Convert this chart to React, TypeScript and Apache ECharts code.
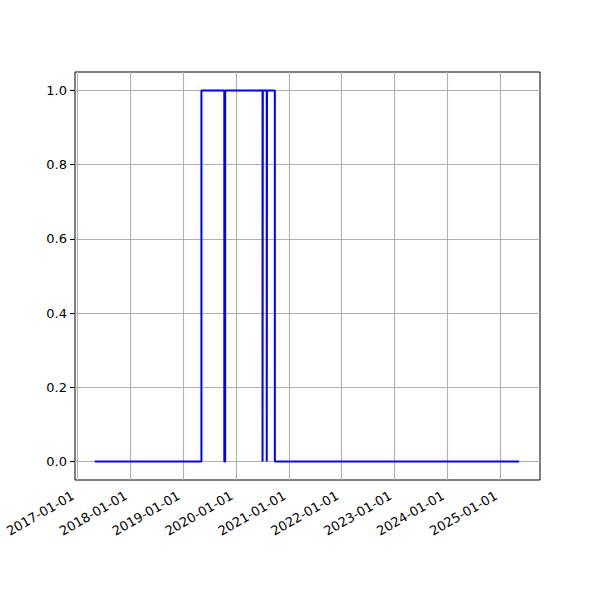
import React, { useEffect, useRef } from "react";
import * as echarts from "echarts";

const changeDates = [
  "2017-05-02",
  "2019-05-08",
  "2019-10-13",
  "2019-10-19",
  "2020-07-03",
  "2020-07-05",
  "2020-08-01",
  "2020-08-03",
  "2020-09-26",
  "2025-05-10",
];
const changeValues = [0, 1, 0, 1, 0, 1, 0, 1, 0, 0];

const xTickDates = [
  "2017-01-01",
  "2018-01-01",
  "2019-01-01",
  "2020-01-01",
  "2021-01-01",
  "2022-01-01",
  "2023-01-01",
  "2024-01-01",
  "2025-01-01",
];
const yTickValues = [0, 0.2, 0.4, 0.6, 0.8, 1.0];

const xMinDate = "2016-12-16";
const xMaxDate = "2025-10-01";
const yMin = -0.05;
const yMax = 1.05;

function ts(d: string): number {
  const [y, m, day] = d.split("-").map(Number);
  return Date.UTC(y, m - 1, day);
}

function fmt(v: number): string {
  const d = new Date(Math.round(v));
  const p = (n: number) => (n < 10 ? "0" + n : "" + n);
  return d.getUTCFullYear() + "-" + p(d.getUTCMonth() + 1) + "-" + p(d.getUTCDate());
}

export default function App() {
  const ref = useRef<HTMLDivElement>(null);
  useEffect(() => {
    document.body.style.margin = "0";
    if (!ref.current) return;
    const chart = echarts.init(ref.current, undefined, { renderer: "svg" });
    const font = "DejaVu Sans";
    const xTicks = xTickDates.map(ts);
    const gridStyle = { color: "#b0b0b0", width: 1.1, type: "solid" as const };
    chart.setOption({
      animation: false,
      backgroundColor: "#ffffff",
      textStyle: { fontFamily: font },
      grid: {
        left: 75,
        right: 60,
        top: 72,
        bottom: 120,
        show: true,
        borderColor: "#000000",
        borderWidth: 1,
        backgroundColor: "transparent",
      },
      xAxis: {
        type: "value",
        min: ts(xMinDate),
        max: ts(xMaxDate),
        axisLine: { show: false },
        splitLine: { show: false },
        axisTick: {
          show: true,
          length: 5,
          lineStyle: { color: "#000", width: 1 },
          customValues: xTicks,
        },
        axisLabel: {
          customValues: xTicks,
          rotate: 30,
          formatter: (v: number) => fmt(v),
          color: "#000",
          fontSize: 13,
          fontFamily: font,
          margin: 12,
          padding: [0, 5, 0, 0],
          showMinLabel: true,
          showMaxLabel: true,
          hideOverlap: false,
        },
      },
      yAxis: {
        type: "value",
        min: yMin,
        max: yMax,
        axisLine: { show: false },
        splitLine: { show: false },
        axisTick: {
          show: true,
          length: 5,
          lineStyle: { color: "#000", width: 1 },
          customValues: yTickValues,
        },
        axisLabel: {
          customValues: yTickValues,
          formatter: (v: number) => v.toFixed(1),
          color: "#000",
          fontSize: 13,
          fontFamily: font,
          margin: 8,
          showMinLabel: true,
          showMaxLabel: true,
        },
      },
      series: [
        {
          type: "line",
          step: "end",
          data: changeDates.map((d, i) => [ts(d), changeValues[i]]),
          showSymbol: false,
          symbol: "none",
          lineStyle: { color: "#0000ff", width: 2 },
          z: 3,
          markLine: {
            silent: true,
            symbol: ["none", "none"],
            label: { show: false },
            lineStyle: gridStyle,
            z: 1,
            data: [
              ...xTicks.map((t) => ({ xAxis: t })),
              ...yTickValues.map((v) => ({ yAxis: v })),
            ],
          },
        },
      ],
    });
    return () => chart.dispose();
  }, []);
  return <div ref={ref} style={{ width: 600, height: 600 }} />;
}
